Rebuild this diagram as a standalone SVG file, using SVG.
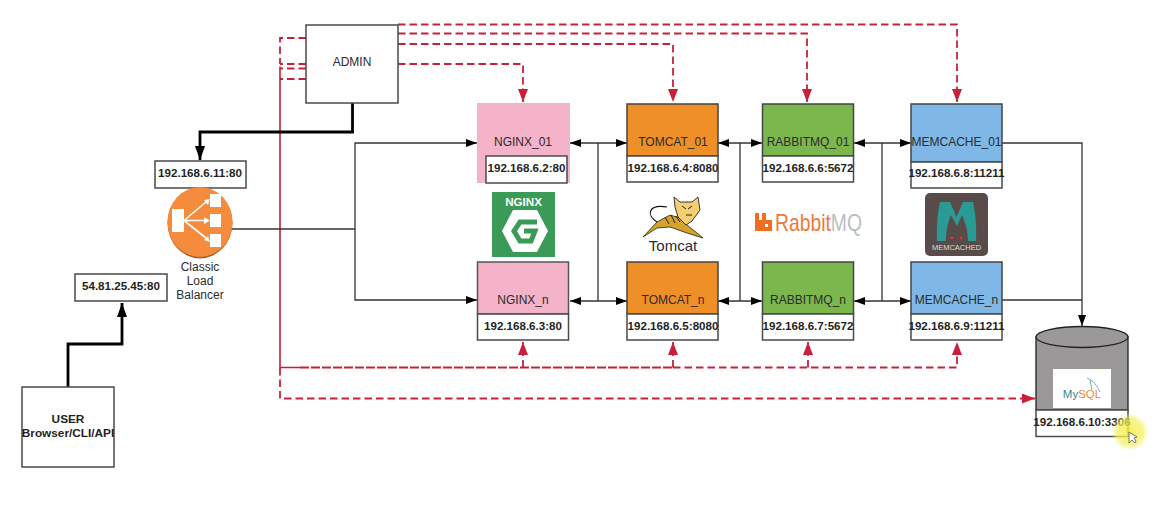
<svg xmlns="http://www.w3.org/2000/svg" width="1159" height="512" viewBox="0 0 1159 512">
<style>
text{font-family:"Liberation Sans",Arial,sans-serif;fill:#2b2b2b;text-anchor:middle}
.lbl{font-size:12px}
.ip{font-size:11.6px;font-weight:bold;fill:#1f1f1f}
.box{fill:#fff;stroke:#4a4a4a;stroke-width:1.5}
.pink{fill:#f5b3ca;stroke:#555;stroke-width:1.5}
.org{fill:#ef8f27;stroke:#444;stroke-width:1.5}
.grn{fill:#7cb74e;stroke:#444;stroke-width:1.5}
.blu{fill:#7fb8e6;stroke:#444;stroke-width:1.5}
.k{fill:none;stroke:#333;stroke-width:1.3}
.kt{fill:none;stroke:#000;stroke-width:2.800}
.r{fill:none;stroke:#c8203a;stroke-width:1.800;stroke-dasharray:7.500 4}
.r2{fill:none;stroke:#c8203a;stroke-width:1.800;stroke-dasharray:9 2}
.rs{fill:none;stroke:#c0202f;stroke-width:1.600}
</style>
<defs>
<marker id="a" markerUnits="userSpaceOnUse" markerWidth="12" markerHeight="10" refX="11" refY="4" orient="auto-start-reverse"><path d="M0 0L11 4L0 8Z" fill="#000"/></marker>
<marker id="t" markerUnits="userSpaceOnUse" markerWidth="15" markerHeight="11" refX="14" refY="5" orient="auto"><path d="M0 0L14 5L0 10Z" fill="#000"/></marker>
<marker id="rd" markerUnits="userSpaceOnUse" markerWidth="14" markerHeight="11" refX="13" refY="5" orient="auto"><path d="M0 0L13 5L0 10Z" fill="#c8203a"/></marker>
<radialGradient id="glow"><stop offset="0" stop-color="#f4ee3c" stop-opacity=".85"/><stop offset=".7" stop-color="#f6f060" stop-opacity=".7"/><stop offset="1" stop-color="#f8f490" stop-opacity="0"/></radialGradient>
</defs>
<rect width="1159" height="512" fill="#fff"/>

<g id="connectors">
<path class="r" d="M398 24.500H957V102" marker-end="url(#rd)"/>
<path class="r" d="M398 33.500H807V102" marker-end="url(#rd)"/>
<path class="r" d="M398 44H673V102" marker-end="url(#rd)"/>
<path class="r" d="M398 64H523V102" marker-end="url(#rd)"/>
<path class="r" d="M306 38H280V64"/>
<path class="r" d="M306 64H280M306 68.500H280M306 79H280"/>
<path class="rs" d="M280 66.500V367.500H300"/>
<path class="r2" d="M300 367.500H673"/>
<path class="r" d="M673 367.500H957V342" marker-end="url(#rd)"/>
<path class="r" d="M523 367.500V342" marker-end="url(#rd)"/>
<path class="r" d="M673 367.500V342" marker-end="url(#rd)"/>
<path class="r" d="M808 367.500V342" marker-end="url(#rd)"/>
<path class="r" d="M280 368V398.500H1035" marker-end="url(#rd)"/>
<path class="kt" d="M352.500 103V132H200V160" marker-end="url(#t)"/>
<path class="kt" d="M68 387V344H122V303" marker-end="url(#t)"/>
<path class="k" d="M232 229H355"/>
<path class="k" d="M355 229V143H477" marker-end="url(#a)"/>
<path class="k" d="M355 229V300H477" marker-end="url(#a)"/>
<path class="k" d="M570 143H627" marker-start="url(#a)" marker-end="url(#a)"/>
<path class="k" d="M718 143H762" marker-start="url(#a)" marker-end="url(#a)"/>
<path class="k" d="M854 143H911" marker-start="url(#a)" marker-end="url(#a)"/>
<path class="k" d="M570 301H627" marker-start="url(#a)" marker-end="url(#a)"/>
<path class="k" d="M718 301H762" marker-start="url(#a)" marker-end="url(#a)"/>
<path class="k" d="M854 301H911" marker-start="url(#a)" marker-end="url(#a)"/>
<path class="k" d="M598 143V301M740 143V301M882 143V301"/>
<path class="k" d="M1002 143H1082V326" marker-end="url(#a)"/>
<path class="k" d="M1002 300H1082"/>
</g>

<g id="admin"><rect class="box" x="306" y="25" width="92" height="78"/><text class="lbl" x="352" y="66">ADMIN</text></g>

<g id="user"><rect class="box" x="22" y="387" width="92" height="80"/><text class="ip" x="68" y="423" style="font-size:11.800px">USER</text><text class="ip" x="68" y="437" style="font-size:11.800px">Browser/CLI/API</text></g>
<g id="public-ip"><rect class="box" x="75" y="274" width="92" height="27"/><text class="ip" x="121" y="290">54.81.25.45:80</text></g>
<g id="lb-ip"><rect class="box" x="155" y="161" width="91" height="27"/><text class="ip" x="200" y="177">192.168.6.11:80</text></g>

<g id="load-balancer">
<ellipse cx="200" cy="223" rx="32.500" ry="35.500" fill="#a85f26"/>
<ellipse cx="200" cy="222" rx="32.500" ry="35" fill="#f58b3c"/>
<g fill="#fff"><rect x="172" y="209" width="12" height="23"/><rect x="210" y="194" width="11" height="13"/><rect x="210" y="214" width="11" height="13"/><rect x="210" y="234" width="11" height="13"/>
<path d="M204 200L210 199L208 205ZM204 217L210 220.500L204 224ZM204 240L210 242L208 236Z"/></g>
<path d="M184 220.500L206 202M184 220.500H206M184 220.500L206 238" stroke="#fff" stroke-width="1.600" fill="none"/>
<text class="lbl" x="200" y="271">Classic</text><text class="lbl" x="200" y="285">Load</text><text class="lbl" x="200" y="299">Balancer</text>
</g>

<g id="nginx-01"><rect x="477" y="103" width="93" height="80" fill="#f5b3ca"/><text class="lbl" x="523" y="146">NGINX_01</text><rect class="box" x="486" y="156" width="81" height="27"/><text class="ip" x="526.500" y="172">192.168.6.2:80</text></g>
<g id="tomcat-01"><rect class="org" x="627" y="104" width="91" height="52"/><text class="lbl" x="673" y="146">TOMCAT_01</text><rect class="box" x="627" y="156" width="91" height="26"/><text class="ip" x="673" y="172">192.168.6.4:8080</text></g>
<g id="rabbitmq-01"><rect class="grn" x="762.500" y="104" width="91" height="52"/><text class="lbl" x="808" y="146">RABBITMQ_01</text><rect class="box" x="762.500" y="156" width="91" height="26"/><text class="ip" x="808" y="172">192.168.6.6:5672</text></g>
<g id="memcache-01"><rect class="blu" x="911" y="104" width="91" height="58"/><text class="lbl" x="956.500" y="146">MEMCACHE_01</text><rect class="box" x="911" y="162" width="91" height="26"/><text class="ip" x="956.500" y="177">192.168.6.8:11211</text></g>

<g id="nginx-n"><rect class="pink" x="477.500" y="262" width="91" height="52"/><text class="lbl" x="523" y="304">NGINX_n</text><rect class="box" x="477.500" y="314" width="91" height="26"/><text class="ip" x="523" y="330">192.168.6.3:80</text></g>
<g id="tomcat-n"><rect class="org" x="627" y="262" width="91" height="52"/><text class="lbl" x="673" y="304">TOMCAT_n</text><rect class="box" x="627" y="314" width="91" height="26"/><text class="ip" x="673" y="330">192.168.6.5:8080</text></g>
<g id="rabbitmq-n"><rect class="grn" x="762.500" y="262" width="91" height="52"/><text class="lbl" x="808" y="304">RABBITMQ_n</text><rect class="box" x="762.500" y="314" width="91" height="26"/><text class="ip" x="808" y="330">192.168.6.7:5672</text></g>
<g id="memcache-n"><rect class="blu" x="911" y="262" width="91" height="52"/><text class="lbl" x="956.500" y="304">MEMCACHE_n</text><rect class="box" x="911" y="314" width="91" height="26"/><text class="ip" x="956.500" y="330">192.168.6.9:11211</text></g>

<g id="mysql">
<path d="M1036 337V410H1128V337Z" fill="#9a9899" stroke="#222" stroke-width="1.300"/>
<ellipse cx="1082" cy="337" rx="46" ry="10.500" fill="#9a9899" stroke="#222" stroke-width="1.300"/>
<rect x="1053" y="369" width="58" height="39" fill="#fff"/>
<text x="1082" y="398" style="font-size:11.500px;fill:#2f8a96">My<tspan fill="#e48a3a">SQL</tspan></text>
<path d="M1087 378C1093 380 1097 386 1100 392M1090 380L1092 390" fill="none" stroke="#4a9aa5" stroke-width=".8"/>
<rect class="box" x="1036" y="410" width="92" height="26.500"/>
<text class="ip" x="1082" y="426">192.168.6.10:3306</text>
</g>

<g id="logo-nginx">
<rect x="492" y="192" width="63" height="65" fill="#3a9a57"/>
<text x="523.500" y="206" style="font-size:11.600px;font-weight:bold;fill:#fff">NGINX</text>
<path d="M513 210H537L548 231L537 252H513L502 231Z" fill="#fff"/>
<path d="M537 222H520L514 231L520 241H531L535 231H524" fill="none" stroke="#3a9a57" stroke-width="5"/>
</g>
<g id="logo-tomcat">
<path d="M643 237L657 222L670 215L680 218L687 225L697 233L703 238L687 233L670 227L657 228Z" fill="#d4a32a" stroke="#222" stroke-width=".8"/>
<path d="M674 197L680 202H692L698 197L700 210L692 221L686 225L678 217L675 207Z" fill="#f4cf72" stroke="#222" stroke-width=".9"/>
<path d="M657 222C646 215 648 204 667 207" fill="none" stroke="#111" stroke-width="1.200"/>
<path d="M665 217L669 224M671 215L675 223M676 216L680 222M682 206L686 209M692 206L688 209M686 215H692" stroke="#222" stroke-width="1"/>
<text x="673" y="251" style="font-size:15px">Tomcat</text>
</g>
<g id="logo-rabbitmq">
<path d="M755 213H759V220H762V213H766V220H772V231H755Z" fill="#f26d23"/>
<rect x="765" y="224" width="3" height="3" fill="#fff"/>
<text transform="translate(775 231) scale(.84 1)" x="0" y="0" style="font-size:23px;text-anchor:start;fill:#f0763a">Rabbit<tspan fill="#b8bfc4">MQ</tspan></text>
</g>
<g id="logo-memcached">
<rect x="925" y="193" width="63" height="63" rx="5" fill="#594b49"/>
<path d="M940 202H950L956.500 217L963 202H973Q977 220 976 241H968C968 230 965 222 962 215L957 226L951 215C948 222 946 230 946 241H937Q936 220 940 202Z" fill="#2a9a94"/>
<circle cx="952" cy="238" r="1.300" fill="#e33"/><circle cx="961" cy="238" r="1.300" fill="#e33"/>
<text x="956.500" y="249.500" style="font-size:7.500px;fill:#ddd">MEMCACHED</text>
</g>
<g id="cursor">
<circle cx="1130" cy="432" r="19" fill="url(#glow)"/>
<path d="M1129 432L1129 443L1132 440L1135 443L1136 441L1134 438L1137 437Z" fill="#fff" stroke="#555" stroke-width=".8"/>
</g>
</svg>
